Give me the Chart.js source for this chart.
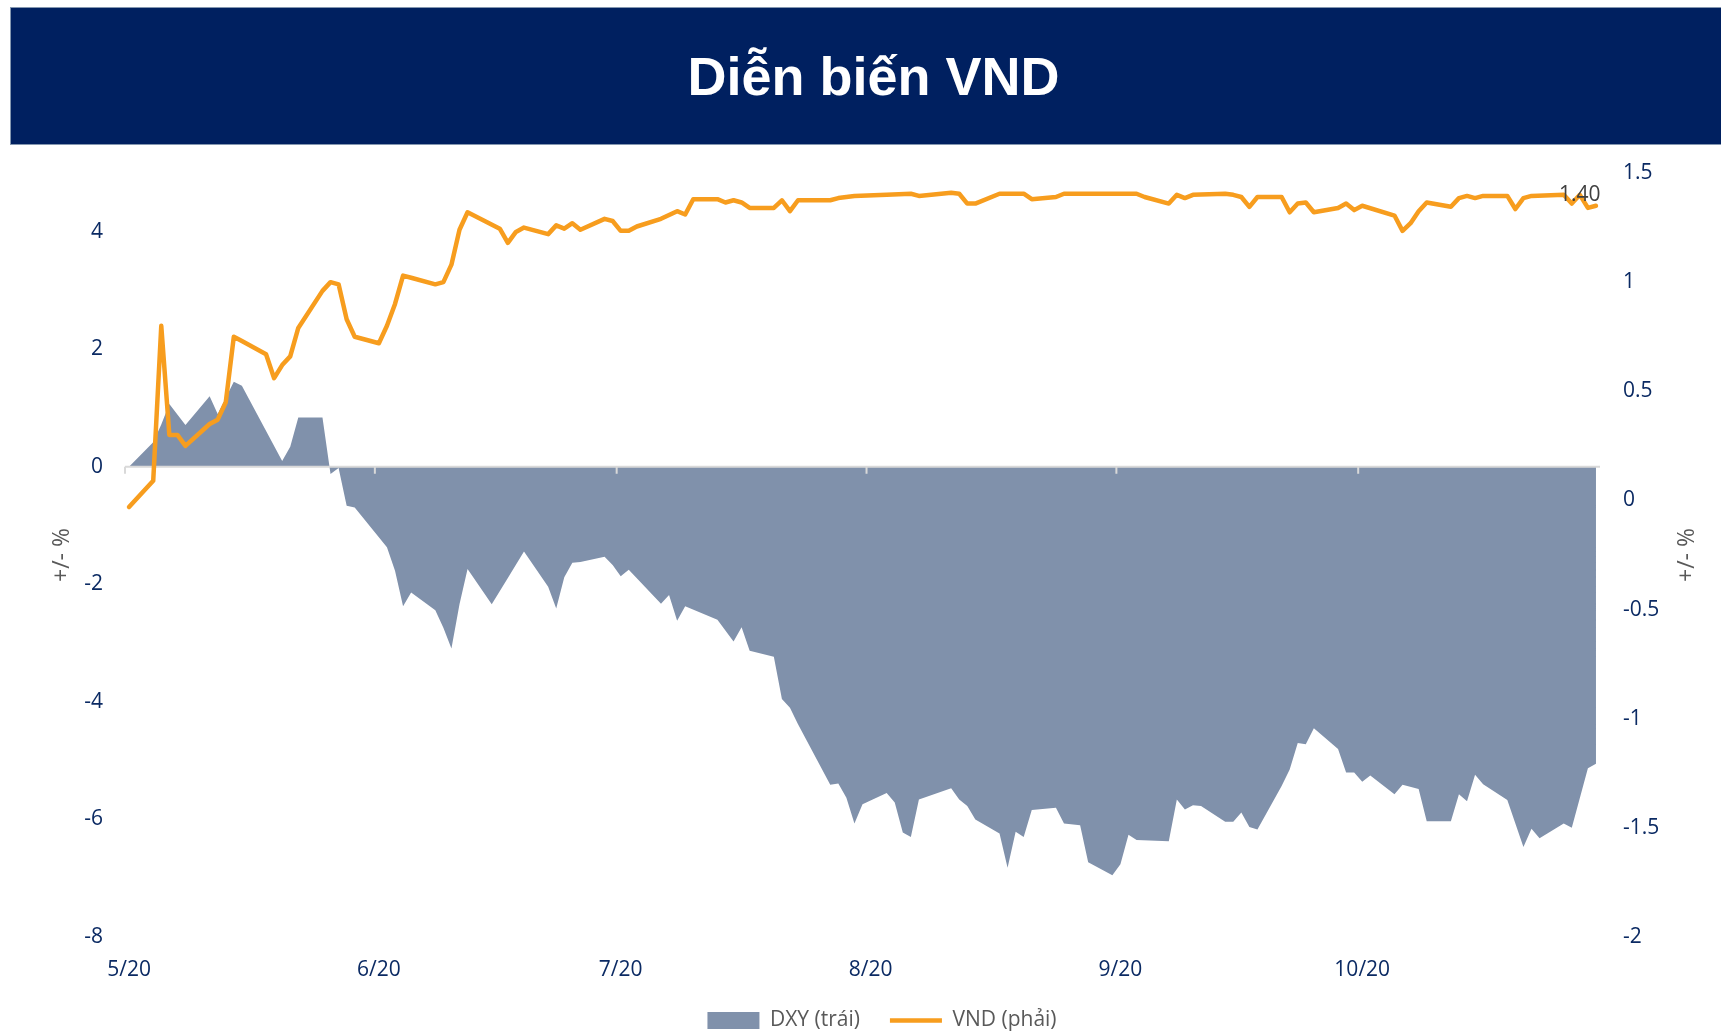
<!DOCTYPE html>
<html>
<head>
<meta charset="utf-8">
<title>Diễn biến VND</title>
<script src="https://cdn.jsdelivr.net/npm/chart.js@4.4.1/dist/chart.umd.min.js"></script>
<style>
    html, body {
        margin: 0;
        padding: 0;
        width: 1721px;
        height: 1033px;
        overflow: hidden;
        background: #ffffff;
    }
    #banner {
        position: absolute;
        left: 10px;
        top: 7px;
        width: 1711px;
        height: 138px;
        box-sizing: border-box;
        padding-left: 15px;
        background: #002060;
        border: 1px solid #8497b0;
        border-right: none;
        color: #ffffff;
        font: bold 54px "Liberation Sans", Arial, sans-serif;
        display: flex;
        align-items: center;
        justify-content: center;
        z-index: 2;
    }
    #chart {
        position: absolute;
        left: 0;
        top: 0;
    }
</style>
</head>
<body>
<div id="banner">Diễn biến VND</div>
<canvas id="chart" width="1721" height="1033"></canvas>

<script>
// Days counted from 5/20 (one point per day, weekends repeat Friday)
const tickDays = [0, 31, 61, 92, 123, 153];
const tickLabels = ["5/20", "6/20", "7/20", "8/20", "9/20", "10/20"];
const leftTicks = [-8, -6, -4, -2, 0, 2, 4];
const rightTicks = [-2, -1.5, -1, -0.5, 0, 0.5, 1, 1.5];

// DXY (left axis, +/- %)
const dxyDays = [0, 3, 4, 5, 7, 10, 11, 13, 14, 19, 20, 21, 24, 25, 26, 27, 28, 32, 33, 34,
    35, 38, 39, 40, 41, 42, 45, 47, 49, 52, 53, 54, 55, 56, 59, 60, 61, 62, 66, 67,
    68, 69, 73, 75, 76, 77, 80, 81, 82, 83, 87, 88, 89, 90, 91, 94, 95, 96, 97, 98,
    102, 103, 104, 105, 108, 109, 110, 111, 112, 115, 116, 118, 119, 122, 123, 124, 125, 129, 130, 131,
    132, 133, 136, 137, 138, 139, 140, 143, 144, 145, 146, 147, 150, 151, 152, 153, 154, 157, 158, 160,
    161, 164, 165, 166, 167, 168, 171, 173, 174, 175, 178, 179, 181, 182];
const dxyValues = [0, 0.42, 0.72, 1.07, 0.71, 1.20, 0.90, 1.45, 1.38, 0.10, 0.34, 0.84, 0.84, -0.12, -0.02, -0.66, -0.69, -1.37, -1.77, -2.37,
    -2.14, -2.44, -2.74, -3.09, -2.34, -1.74, -2.34, -1.89, -1.44, -2.04, -2.41, -1.88, -1.63, -1.62, -1.53, -1.67, -1.86, -1.75, -2.33, -2.18,
    -2.62, -2.37, -2.60, -2.97, -2.73, -3.13, -3.23, -3.95, -4.10, -4.38, -5.41, -5.39, -5.63, -6.07, -5.74, -5.55, -5.71, -6.22, -6.30, -5.66,
    -5.47, -5.66, -5.77, -6.00, -6.24, -6.82, -6.21, -6.30, -5.84, -5.80, -6.07, -6.10, -6.73, -6.95, -6.76, -6.26, -6.35, -6.37, -5.66, -5.83,
    -5.76, -5.77, -6.04, -6.04, -5.88, -6.13, -6.17, -5.43, -5.15, -4.70, -4.72, -4.45, -4.80, -5.20, -5.20, -5.36, -5.25, -5.57, -5.41, -5.48,
    -6.03, -6.03, -5.57, -5.69, -5.24, -5.40, -5.67, -6.47, -6.16, -6.32, -6.07, -6.14, -5.13, -5.05];

// VND (right axis, +/- %)
const vndDays = [0, 3, 4, 5, 6, 7, 10, 11, 12, 13, 14, 17, 18, 19, 20, 21, 24, 25, 26, 27,
    28, 31, 32, 33, 34, 35, 38, 39, 40, 41, 42, 46, 47, 48, 49, 52, 53, 54, 55, 56,
    59, 60, 61, 62, 63, 66, 68, 69, 70, 73, 74, 75, 76, 77, 80, 81, 82, 83, 87, 88,
    90, 94, 97, 98, 102, 103, 104, 105, 108, 111, 112, 115, 116, 119, 125, 126, 129, 130, 131, 132,
    136, 137, 138, 139, 140, 143, 144, 145, 146, 147, 150, 151, 152, 153, 157, 158, 159, 160, 161, 164,
    165, 166, 167, 168, 171, 172, 173, 174, 178, 179, 180, 181, 182];
const vndValues = [-0.03, 0.09, 0.80, 0.30, 0.30, 0.25, 0.35, 0.37, 0.45, 0.75, 0.73, 0.67, 0.56, 0.62, 0.66, 0.79, 0.96, 1.00, 0.99, 0.83,
    0.75, 0.72, 0.80, 0.90, 1.03, 1.02, 0.99, 1.00, 1.08, 1.24, 1.32, 1.245, 1.18, 1.23, 1.25, 1.22, 1.26, 1.245, 1.27, 1.24,
    1.29, 1.28, 1.235, 1.235, 1.255, 1.29, 1.325, 1.31, 1.38, 1.38, 1.365, 1.375, 1.365, 1.34, 1.34, 1.375, 1.325, 1.375, 1.375, 1.385,
    1.395, 1.40, 1.405, 1.395, 1.41, 1.405, 1.36, 1.36, 1.405, 1.405, 1.38, 1.39, 1.405, 1.405, 1.405, 1.39, 1.36, 1.40, 1.385, 1.40,
    1.405, 1.40, 1.39, 1.345, 1.39, 1.39, 1.32, 1.36, 1.365, 1.32, 1.34, 1.36, 1.33, 1.35, 1.305, 1.235, 1.27, 1.325, 1.365, 1.345,
    1.385, 1.395, 1.385, 1.395, 1.395, 1.335, 1.385, 1.395, 1.40, 1.36, 1.40, 1.34, 1.35];

const labelDay = 180; // point carrying the "1.40" data label
const axisTitle = "+/- %";

const tickColor = "#0b2a63";
const greyText = "#595959";
const fontFamily = "'Open Sans', 'DejaVu Sans', sans-serif";

function toPoints(days, values) {
    return days.map((d, i) => ({ x: d, y: values[i] }));
}

// Horizontal axis line at 0 on the left scale, with month tick marks
const zeroAxis = {
    id: "zeroAxis",
    beforeDatasetDraw(chart, args) {
        if (args.index !== 1) return; // draw just before the VND line
        const { ctx, chartArea, scales } = chart;
        const y0 = scales.yL.getPixelForValue(0);
        ctx.save();
        ctx.strokeStyle = "#d9d9d9";
        ctx.lineWidth = 2;
        ctx.beginPath();
        ctx.moveTo(chartArea.left, y0);
        ctx.lineTo(chartArea.right, y0);
        tickDays.forEach(d => {
            const px = scales.x.getPixelForValue(d - 0.5);
            ctx.moveTo(px, y0);
            ctx.lineTo(px, y0 + 7);
        });
        ctx.stroke();
        ctx.restore();
    }
};

// Both axis titles read bottom-to-top
const sideTitles = {
    id: "sideTitles",
    afterDraw(chart) {
        const { ctx, chartArea } = chart;
        const cy = (chartArea.top + chartArea.bottom) / 2;
        ctx.save();
        ctx.font = "23px " + fontFamily;
        ctx.fillStyle = greyText;
        ctx.textAlign = "center";
        ctx.textBaseline = "middle";
        [chartArea.left - 63, chartArea.right + 87].forEach(x => {
            ctx.save();
            ctx.translate(x, cy);
            ctx.rotate(-Math.PI / 2);
            ctx.fillText(axisTitle, 0, 0);
            ctx.restore();
        });
        ctx.restore();
    }
};

// Data label on the VND line
const valueLabel = {
    id: "valueLabel",
    afterDatasetsDraw(chart) {
        const i = vndDays.indexOf(labelDay);
        const pt = chart.getDatasetMeta(1).data[i];
        if (!pt) return;
        const { ctx } = chart;
        ctx.save();
        ctx.font = "21px " + fontFamily;
        ctx.fillStyle = "#404040";
        ctx.textAlign = "center";
        ctx.textBaseline = "middle";
        ctx.fillText(vndValues[i].toFixed(2), pt.x, pt.y);
        ctx.restore();
    }
};

const ctx = document.getElementById("chart").getContext("2d");

new Chart(ctx, {
    type: "line",
    data: {
        datasets: [{
            label: "DXY (trái)",
            data: toPoints(dxyDays, dxyValues),
            yAxisID: "yL",
            fill: "origin",
            backgroundColor: "#8091ab",
            borderColor: "#8091ab",
            borderWidth: 0,
            pointRadius: 0,
            pointStyle: "rect",
            order: 1
        }, {
            label: "VND (phải)",
            data: toPoints(vndDays, vndValues),
            yAxisID: "yR",
            fill: false,
            borderColor: "#f79d1e",
            backgroundColor: "#f79d1e",
            borderWidth: 4.5,
            borderJoinStyle: "round",
            borderCapStyle: "round",
            pointRadius: 0,
            pointStyle: "line",
            order: 0
        }]
    },
    options: {
        responsive: false,
        animation: false,
        devicePixelRatio: 1,
        // left padding only nudges the legend; the plot still starts at x=125
        layout: { padding: { top: 173, bottom: -8, left: 43, right: 0 } },
        plugins: {
            legend: {
                position: "bottom",
                labels: {
                    usePointStyle: true,
                    pointStyleWidth: 52,
                    boxHeight: 17,
                    padding: 30,
                    color: greyText,
                    font: { family: fontFamily, size: 21 },
                    sort: (a, b) => a.datasetIndex - b.datasetIndex
                }
            },
            tooltip: { enabled: false }
        },
        scales: {
            x: {
                type: "linear",
                min: -0.5,
                max: 182.5,
                grid: { display: false, drawTicks: false },
                border: { display: false },
                afterBuildTicks: scale => { scale.ticks = tickDays.map(v => ({ value: v })); },
                afterFit: scale => { scale.height = 43; },
                ticks: {
                    autoSkip: false,
                    maxRotation: 0,
                    padding: 20,
                    color: tickColor,
                    font: { family: fontFamily, size: 21 },
                    callback: (value, index) => tickLabels[index]
                }
            },
            yL: {
                position: "left",
                min: -8,
                max: 5,
                grid: { display: false, drawTicks: false },
                border: { display: false },
                afterBuildTicks: scale => { scale.ticks = leftTicks.map(v => ({ value: v })); },
                afterFit: scale => { scale.width = 82; },
                ticks: {
                    padding: 22,
                    color: tickColor,
                    font: { family: fontFamily, size: 21 },
                    callback: value => String(value)
                }
            },
            yR: {
                position: "right",
                min: -2,
                max: 1.5,
                grid: { display: false, drawTicks: false },
                border: { display: false },
                afterBuildTicks: scale => { scale.ticks = rightTicks.map(v => ({ value: v })); },
                afterFit: scale => { scale.width = 121; },
                ticks: {
                    padding: 23,
                    color: tickColor,
                    font: { family: fontFamily, size: 21 },
                    callback: value => String(value)
                }
            }
        }
    },
    plugins: [zeroAxis, sideTitles, valueLabel]
});
</script>
</body>
</html>
